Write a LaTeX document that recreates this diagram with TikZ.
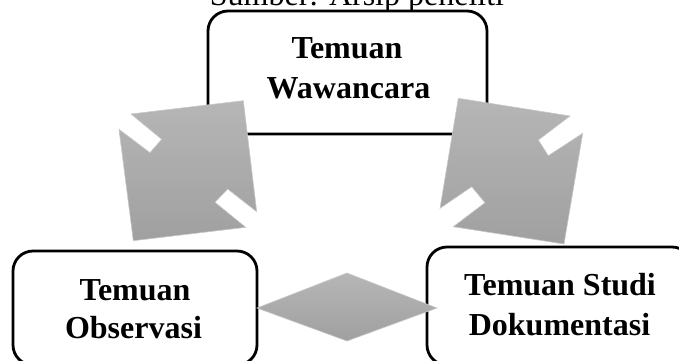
\documentclass[tikz,border=0pt]{standalone}
\usepackage{fontspec}
\setmainfont{Liberation Serif}
\definecolor{gtop}{RGB}{182,182,182}
\definecolor{gbot}{RGB}{160,160,160}
\definecolor{gedge}{RGB}{200,200,200}
\begin{document}
\begin{tikzpicture}[x=1pt,y=-1pt,
  box/.style={draw=black,line width=2.8pt,rounded corners=20pt,fill=white,inner sep=0pt},
  lbl/.style={anchor=base,inner sep=0pt,font=\fontsize{32}{40}\selectfont\bfseries},
  grayshape/.style={top color=gtop,bottom color=gbot,draw=gedge,line width=0.6pt}]
\useasboundingbox (0,0) rectangle (679,360);
\clip (0,0) rectangle (679,360);
% caption (cut off at top)
\node[anchor=base,inner sep=0pt,font=\fontsize{32}{38}\selectfont] (src) at (357,5) {Sumber: Arsip peneliti};
% boxes
\node[box,minimum width=279pt,minimum height=123pt] (wawa) at (347.5,72.5) {};
\node[box,minimum width=244pt,minimum height=114pt] (obs) at (135,308) {};
\node[box,minimum width=265pt,minimum height=118pt] (dok) at (559.5,306) {};
% labels
\node[lbl] (w1) at (347,58) {Temuan};
\node[lbl] (w2) at (348.5,98) {Wawancara};
\node[lbl] (o1) at (135,300) {Temuan};
\node[lbl] (o2) at (133.5,338) {Observasi};
\node[lbl] (d1) at (560,295) {Temuan Studi};
\node[lbl] (d2) at (559.5,335) {Dokumentasi};
% left double arrow (rotated square with notches)
\shade[grayshape] (131,114) -- (243.3,100.7) -- (256.7,211.7) -- (227.7,189) -- (215,202.3)
  -- (245.7,227.3) -- (133.3,240.7) -- (119,129.3) -- (150,152.7) -- (161.7,139.3) -- cycle;
% right double arrow
\shade[grayshape] (458.3,98.3) -- (570,116) -- (538.3,140) -- (548.3,155.7) -- (582.7,133.3)
  -- (564,244) -- (453.3,226.7) -- (485,202.7) -- (471.7,186.7) -- (440,208.3) -- cycle;
% diamond between bottom boxes
\shade[grayshape] (257,308) -- (347,273) -- (437,308) -- (347,341) -- cycle;
\end{tikzpicture}
\end{document}
